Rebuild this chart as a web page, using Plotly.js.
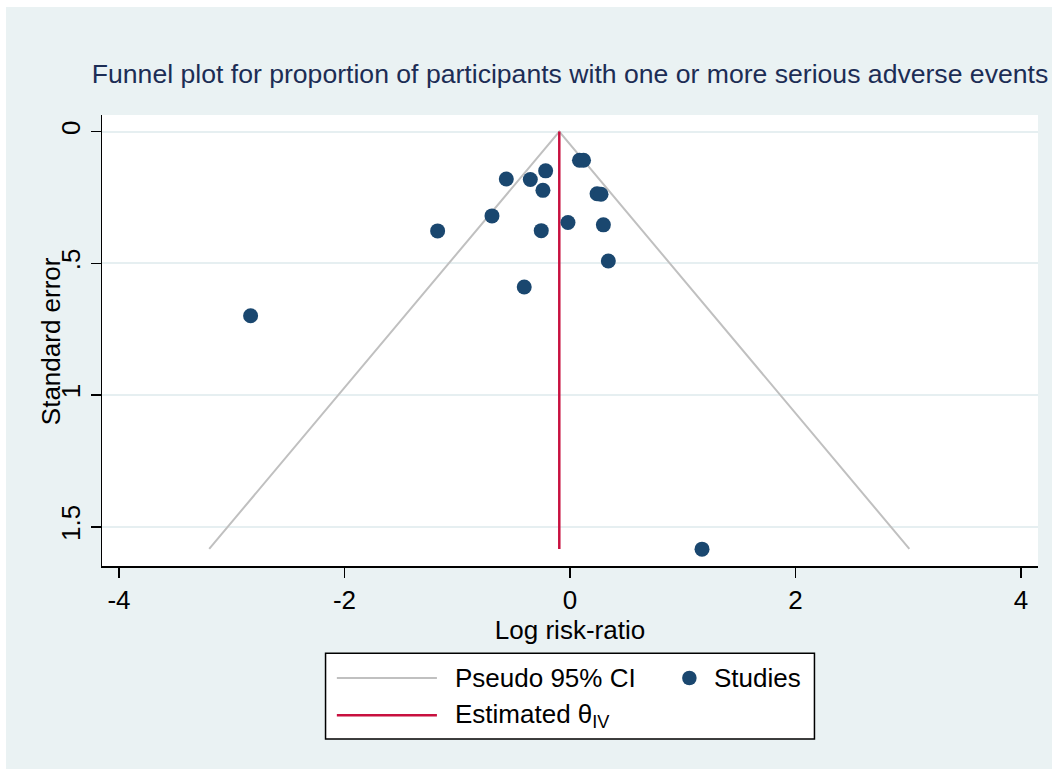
<!DOCTYPE html>
<html>
<head>
<meta charset="utf-8">
<script src="https://cdn.plot.ly/plotly-3.0.1.min.js"></script>
<style>
  html, body { margin: 0; padding: 0; background: #ffffff; }
  #chart { position: absolute; left: 6px; top: 7px; width: 1046px; height: 762px; }
</style>
</head>
<body>
<div id="chart"></div>
<script>
// Study estimates: log risk-ratio and its standard error
const studyLogRR = [0.084, 0.120, -0.216, -0.565, -0.352, -0.240, 0.240, 0.275,
                    -0.692, -0.018, 0.296, -1.174, -0.255, 0.340, -0.406, -2.833, 1.171];
const studySE    = [0.109, 0.109, 0.149, 0.180, 0.182, 0.223, 0.236, 0.238,
                    0.320, 0.345, 0.354, 0.377, 0.376, 0.491, 0.590, 0.699, 1.585];

// Pooled (inverse-variance) estimate and pseudo 95% confidence limits
const thetaIV = -0.095;
const maxSE = 1.584;
const funnelX  = [-3.20, -0.095, 3.01];
const funnelSE = [1.584, 0, 1.584];
const thetaX  = [thetaIV, thetaIV];
const thetaSE = [0, maxSE];

// Axis ticks
const xTicks = [-4, -2, 0, 2, 4];
const yTicks = [0, 0.5, 1, 1.5];
const yTickText = ['0', '.5', '1', '1.5'];

const navy = '#1a476f';
const crimson = '#c8103f';
const ciGray = '#c0c0c0';
const bg = '#eaf2f3';
const font = 'Liberation Sans, Arial, sans-serif';

// Plot-area geometry inside the div (pixels), used to place the legend
const W = 1046, H = 762;
const mL = 96.3, mR = 14.3, mT = 108, mB = 203;
const plotW = W - mL - mR, plotH = H - mT - mB;
const px = x => (x - 6 - mL) / plotW;        // page x -> paper x
const py = y => (H - mB - (y - 7)) / plotH;  // page y -> paper y

const traces = [
  { x: funnelX, y: funnelSE, type: 'scatter', mode: 'lines',
    line: { color: ciGray, width: 2 }, hoverinfo: 'skip', name: 'Pseudo 95% CI' },
  { x: thetaX, y: thetaSE, type: 'scatter', mode: 'lines',
    line: { color: crimson, width: 2.5 }, hoverinfo: 'skip', name: 'Estimated θIV' },
  { x: studyLogRR, y: studySE, type: 'scatter', mode: 'markers',
    marker: { color: navy, size: 15, line: { width: 0 } }, name: 'Studies' }
];

const legendBox = { x0: 325.7, x1: 814.3, y0: 653.3, y1: 739 };
const row1 = 678, row2 = 715.3;

const shapes = [
  { type: 'rect', xref: 'paper', yref: 'paper',
    x0: px(legendBox.x0), x1: px(legendBox.x1), y0: py(legendBox.y0), y1: py(legendBox.y1),
    fillcolor: '#ffffff', line: { color: '#000000', width: 1.5 }, layer: 'above' },
  { type: 'line', xref: 'paper', yref: 'paper',
    x0: px(337), x1: px(437), y0: py(row1), y1: py(row1),
    line: { color: ciGray, width: 2 } },
  { type: 'line', xref: 'paper', yref: 'paper',
    x0: px(337), x1: px(437), y0: py(row2), y1: py(row2),
    line: { color: crimson, width: 2.5 } },
  { type: 'circle', xref: 'paper', yref: 'paper', xsizemode: 'pixel', ysizemode: 'pixel',
    xanchor: px(689.3), yanchor: py(row1), x0: -7.25, x1: 7.25, y0: -7.25, y1: 7.25,
    fillcolor: navy, line: { width: 0 } }
];

const annotations = [
  { xref: 'paper', yref: 'paper', x: px(453.3), y: py(row1), xanchor: 'left', yanchor: 'middle',
    text: 'Pseudo 95% CI', showarrow: false, font: { family: font, size: 26, color: '#000' } },
  { xref: 'paper', yref: 'paper', x: px(711.7), y: py(row1), xanchor: 'left', yanchor: 'middle',
    text: 'Studies', showarrow: false, font: { family: font, size: 26, color: '#000' } },
  { xref: 'paper', yref: 'paper', x: px(453.3), y: py(row2), xanchor: 'left', yanchor: 'middle',
    text: 'Estimated θ<sub>IV</sub>', showarrow: false, font: { family: font, size: 26, color: '#000' } },
  // y-axis title, set close to the rotated tick labels
  { xref: 'paper', yref: 'paper', x: px(51), y: py(341.5), xanchor: 'center', yanchor: 'middle',
    textangle: -90, text: 'Standard error', showarrow: false,
    font: { family: font, size: 26, color: '#000' } }
];

const layout = {
  width: W, height: H,
  paper_bgcolor: bg, plot_bgcolor: '#ffffff',
  margin: { l: mL, r: mR, t: mT, b: mB, pad: 0 },
  showlegend: false,
  font: { family: font, color: '#000000' },
  title: {
    text: 'Funnel plot for proportion of participants with one or more serious adverse events',
    font: { family: font, size: 26.6, color: '#1c2d55' },
    xref: 'paper', x: 0.5, xanchor: 'center',
    yref: 'container', y: 1 - 67 / H, yanchor: 'middle'
  },
  xaxis: {
    range: [-4.151, 4.151],
    tickvals: xTicks, ticktext: xTicks.map(String),
    showgrid: false, zeroline: false,
    showline: true, linecolor: '#000000', linewidth: 1.5, mirror: false,
    ticks: 'outside', ticklen: 10, tickwidth: 1.5, tickcolor: '#000000',
    tickfont: { family: font, size: 26, color: '#000' },
    title: { text: 'Log risk-ratio', font: { family: font, size: 26, color: '#000' }, standoff: 2 }
  },
  yaxis: {
    range: [1.649, -0.063],
    tickvals: yTicks, ticktext: yTickText, tickangle: -90,
    showgrid: true, gridcolor: '#e6eff1', gridwidth: 2, zeroline: false,
    showline: true, linecolor: '#000000', linewidth: 1.5,
    ticks: 'outside', ticklen: 10, tickwidth: 1.5, tickcolor: '#000000',
    tickfont: { family: font, size: 26, color: '#000' }
  },
  shapes: shapes,
  annotations: annotations
};

Plotly.newPlot('chart', traces, layout, { displayModeBar: false, staticPlot: true });
</script>
</body>
</html>
